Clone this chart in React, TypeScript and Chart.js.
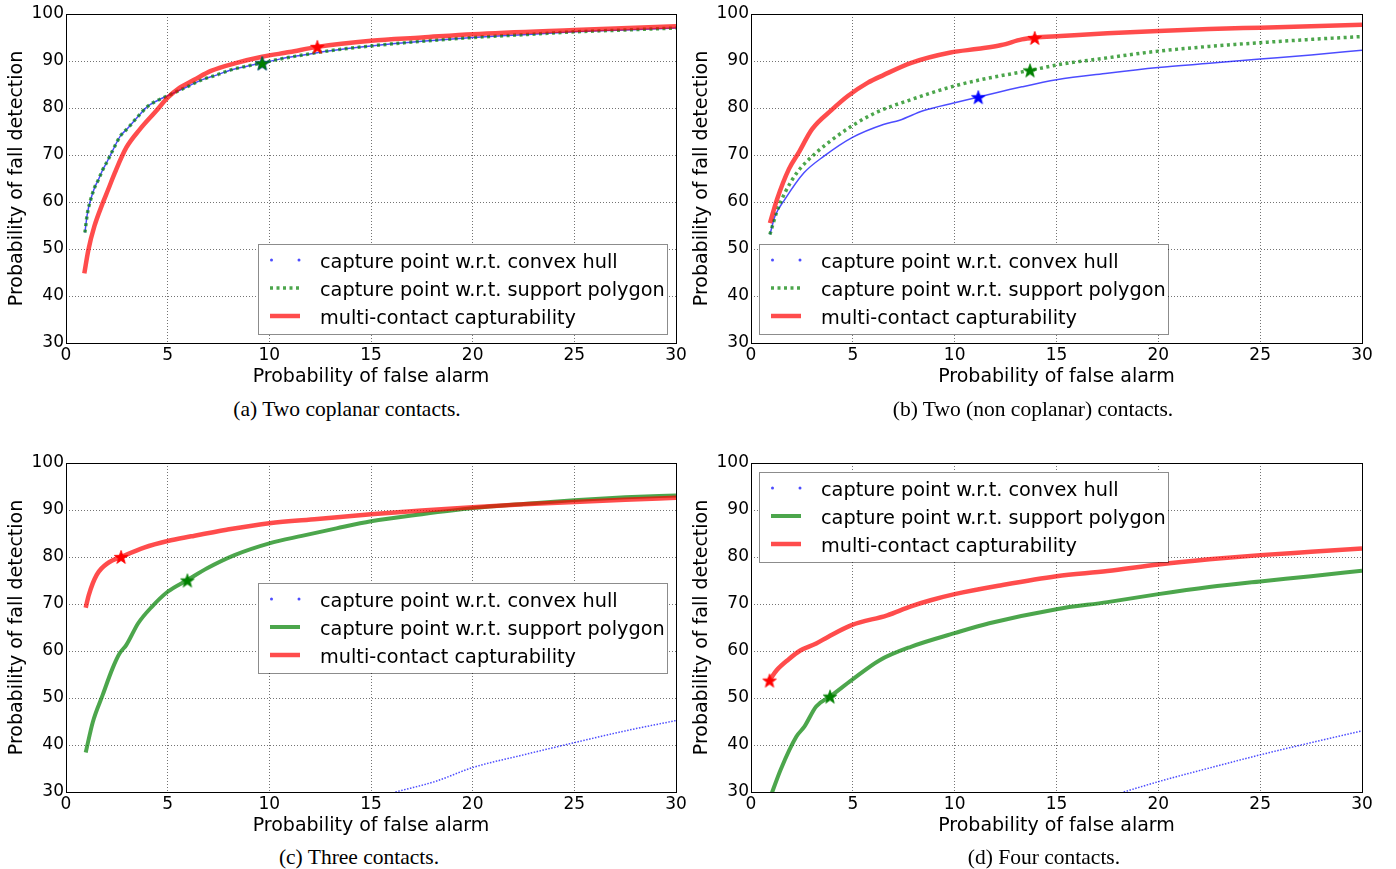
import React, { useEffect, useRef } from "react";
import { Chart, registerables } from "chart.js";
Chart.register(...registerables);

const FONT = '"DejaVu Sans", sans-serif';
const SERIF = '"Liberation Serif", "Times New Roman", serif';

const X_TICKS = [0, 5, 10, 15, 20, 25, 30];
const Y_TICKS = [30, 40, 50, 60, 70, 80, 90, 100];
const X_TITLE = "Probability of false alarm";
const Y_TITLE = "Probability of fall detection";
const LEGEND_LABELS = [
  "capture point w.r.t. convex hull",
  "capture point w.r.t. support polygon",
  "multi-contact capturability",
];
const CAPTIONS = [
  "(a) Two coplanar contacts.",
  "(b) Two (non coplanar) contacts.",
  "(c) Three contacts.",
  "(d) Four contacts.",
];

// (a) Two coplanar contacts
const A_HULL_X = [0.93, 1.05, 1.22, 1.4, 1.6, 1.8, 2.0, 2.3, 2.67, 3.06, 3.5, 4.03, 4.5, 5.0, 5.8, 6.74, 7.4, 8.1, 8.9, 9.65, 10.5, 11.4, 13.0, 15.0, 17.5, 20.0, 22.5, 25.0, 27.5, 30.0];
const A_HULL_Y = [53.5, 57.5, 60.6, 63.0, 64.8, 66.8, 68.4, 71.0, 74.0, 75.8, 78.0, 80.4, 81.6, 82.6, 84.2, 86.1, 87.0, 88.1, 88.9, 89.6, 90.4, 91.1, 92.2, 93.2, 94.2, 95.0, 95.6, 96.2, 96.6, 97.0];
const A_POLY_X = [0.93, 1.05, 1.22, 1.4, 1.6, 1.8, 2.0, 2.3, 2.67, 3.06, 3.5, 4.03, 4.5, 5.0, 5.8, 6.74, 7.4, 8.1, 8.9, 9.65, 10.5, 11.4, 13.0, 15.0, 17.5, 20.0, 22.5, 25.0, 27.5, 30.0];
const A_POLY_Y = [53.5, 57.5, 60.6, 63.0, 64.8, 66.8, 68.4, 71.0, 74.0, 75.8, 78.0, 80.4, 81.6, 82.6, 84.2, 86.1, 87.0, 88.1, 88.9, 89.6, 90.4, 91.1, 92.2, 93.2, 94.2, 95.0, 95.6, 96.2, 96.6, 97.0];
const A_MCC_X = [0.9, 1.1, 1.4, 1.8, 2.07, 2.4, 2.97, 3.64, 4.42, 5.0, 5.58, 6.3, 7.13, 8.3, 9.65, 11.0, 12.36, 15.0, 17.5, 20.0, 25.0, 30.0];
const A_MCC_Y = [44.8, 49.8, 54.9, 59.7, 62.6, 66.2, 71.6, 75.5, 79.3, 82.2, 84.3, 86.0, 87.9, 89.5, 90.9, 91.9, 93.0, 94.3, 95.0, 95.7, 96.6, 97.4];
const A_STAR_X = [9.65, 9.65, 12.36];
const A_STAR_Y = [89.5, 89.5, 93.0];

// (b) Two (non coplanar) contacts
const B_HULL_X = [0.93, 1.18, 1.67, 2.6, 3.6, 4.96, 6.5, 7.3, 8.45, 10.0, 11.16, 13.3, 15.0, 17.5, 20.0, 22.5, 25.0, 27.5, 30.0];
const B_HULL_Y = [53.1, 57.0, 60.6, 66.2, 69.8, 73.7, 76.5, 77.4, 79.4, 81.1, 82.3, 84.5, 86.0, 87.4, 88.6, 89.5, 90.4, 91.3, 92.3];
const B_POLY_X = [0.93, 1.28, 1.67, 2.25, 3.2, 4.0, 4.96, 6.12, 7.87, 10.0, 11.36, 13.7, 15.2, 17.2, 20.0, 22.5, 25.0, 27.5, 30.0];
const B_POLY_Y = [53.1, 58.1, 62.0, 66.2, 70.5, 73.3, 76.2, 79.0, 81.8, 84.7, 86.1, 88.0, 89.3, 90.5, 92.1, 93.1, 93.9, 94.6, 95.2];
const B_MCC_X = [0.93, 1.28, 1.86, 2.34, 3.0, 3.99, 4.77, 5.74, 6.5, 7.87, 9.8, 11.16, 12.3, 13.3, 13.93, 15.2, 17.5, 20.0, 22.5, 25.0, 27.5, 30.0];
const B_MCC_Y = [55.5, 60.6, 67.0, 70.5, 75.5, 79.7, 82.6, 85.4, 87.0, 89.6, 91.8, 92.6, 93.4, 94.6, 94.96, 95.3, 95.9, 96.4, 96.8, 97.1, 97.4, 97.7];
const B_STAR_X = [11.16, 13.7, 13.93];
const B_STAR_Y = [82.3, 88.0, 94.9];

// (c) Three contacts
const C_HULL_X = [16.2, 18.2, 20.0, 22.5, 25.0, 27.5, 30.0];
const C_HULL_Y = [30.0, 32.3, 35.2, 37.9, 40.5, 43.0, 45.2];
const C_POLY_X = [0.97, 1.32, 1.8, 2.29, 2.64, 2.97, 3.55, 4.22, 5.0, 5.97, 6.94, 8.29, 10.0, 11.6, 13.3, 15.0, 17.5, 20.0, 22.5, 25.0, 27.5, 30.0];
const C_POLY_Y = [38.4, 44.9, 50.6, 56.3, 59.5, 61.3, 65.9, 69.4, 72.6, 75.1, 77.6, 80.4, 82.9, 84.5, 86.1, 87.6, 89.1, 90.4, 91.3, 92.1, 92.7, 93.1];
const C_MCC_X = [0.97, 1.12, 1.51, 2.09, 2.71, 3.84, 5.0, 6.16, 7.9, 10.0, 12.36, 15.0, 17.5, 20.0, 22.5, 25.0, 27.5, 30.0];
const C_MCC_Y = [69.2, 71.9, 76.2, 78.8, 80.0, 82.0, 83.4, 84.4, 85.8, 87.2, 88.1, 89.1, 89.9, 90.6, 91.2, 91.7, 92.2, 92.6];
const C_STAR_X = [null, 5.97, 2.71];
const C_STAR_Y = [null, 75.0, 80.0];

// (d) Four contacts
const D_HULL_X = [18.3, 20.0, 22.5, 25.0, 27.5, 30.0];
const D_HULL_Y = [30.0, 32.2, 35.1, 37.9, 40.5, 43.0];
const D_POLY_X = [1.0, 1.45, 2.23, 2.62, 3.2, 3.88, 4.94, 6.3, 7.85, 10.0, 11.7, 15.0, 17.5, 20.0, 22.5, 25.0, 27.5, 30.0];
const D_POLY_Y = [29.5, 34.7, 41.8, 43.9, 48.2, 50.3, 53.8, 58.0, 60.9, 63.8, 65.9, 68.9, 70.4, 72.1, 73.6, 74.8, 75.9, 77.1];
const D_MCC_X = [0.91, 1.26, 1.84, 2.42, 3.2, 3.78, 4.94, 6.69, 7.85, 8.82, 10.0, 12.3, 15.0, 17.5, 20.0, 22.5, 25.0, 27.5, 30.0];
const D_MCC_Y = [53.8, 55.9, 58.2, 60.1, 61.6, 63.0, 65.5, 67.6, 69.5, 70.8, 72.1, 74.0, 75.9, 77.0, 78.4, 79.5, 80.4, 81.1, 81.8];
const D_STAR_X = [null, 3.88, 0.91];
const D_STAR_Y = [null, 50.3, 53.7];

const HULL_COLOR = "rgba(0,0,255,0.7)";
const POLY_COLOR = "rgba(0,128,0,0.7)";
const MCC_COLOR = "rgba(255,0,0,0.7)";
const STAR_COLORS = ["#0000ff", "#008000", "#ff0000"];

const PANELS = [
  { hx: A_HULL_X, hy: A_HULL_Y, px: A_POLY_X, py: A_POLY_Y, mx: A_MCC_X, my: A_MCC_Y, sx: A_STAR_X, sy: A_STAR_Y, polyDotted: true, hullDash: [] as number[], loc: "lower right", left: 0, top: 0, width: 690, capX: 347, capY: 409 },
  { hx: B_HULL_X, hy: B_HULL_Y, px: B_POLY_X, py: B_POLY_Y, mx: B_MCC_X, my: B_MCC_Y, sx: B_STAR_X, sy: B_STAR_Y, polyDotted: true, hullDash: [] as number[], loc: "lower left", left: 685, top: 0, width: 691, capX: 1033, capY: 409 },
  { hx: C_HULL_X, hy: C_HULL_Y, px: C_POLY_X, py: C_POLY_Y, mx: C_MCC_X, my: C_MCC_Y, sx: C_STAR_X, sy: C_STAR_Y, polyDotted: false, hullDash: [1.5, 1.5], loc: "center right", left: 0, top: 449, width: 690, capX: 359, capY: 857 },
  { hx: D_HULL_X, hy: D_HULL_Y, px: D_POLY_X, py: D_POLY_Y, mx: D_MCC_X, my: D_MCC_Y, sx: D_STAR_X, sy: D_STAR_Y, polyDotted: false, hullDash: [1.5, 1.5], loc: "upper left", left: 685, top: 449, width: 691, capX: 1044, capY: 857 },
];

function makeStar(color: string) {
  const c = document.createElement("canvas");
  const s = 16;
  c.width = s;
  c.height = s;
  const g = c.getContext("2d")!;
  g.beginPath();
  const cx = s / 2, cy = s / 2 + 0.6, R = 7.2, r = 2.9;
  for (let i = 0; i < 10; i++) {
    const ang = -Math.PI / 2 + (i * Math.PI) / 5;
    const rad = i % 2 === 0 ? R : r;
    g.lineTo(cx + rad * Math.cos(ang), cy + rad * Math.sin(ang));
  }
  g.closePath();
  g.fillStyle = color;
  g.fill();
  g.strokeStyle = color;
  g.lineWidth = 0.8;
  g.stroke();
  return c;
}

const framePlugin = {
  id: "frame",
  afterDatasetsDraw(chart: any) {
    const { ctx, chartArea: a } = chart;
    ctx.save();
    ctx.strokeStyle = "#000";
    ctx.lineWidth = 1;
    ctx.strokeRect(Math.floor(a.left) + 0.5, Math.floor(a.top) + 0.5, Math.round(a.right - a.left), Math.round(a.bottom - a.top));
    ctx.restore();
  },
};

function legendPlugin(loc: string, polyDotted: boolean) {
  return {
    id: "mplLegend",
    afterDraw(chart: any) {
      const { ctx, chartArea: a } = chart;
      const W = 409, H = 90;
      let left = 0, top = 0;
      if (loc === "lower right") { left = a.right - 9 - W; top = a.bottom - 9 - H; }
      else if (loc === "lower left") { left = a.left + 8; top = a.bottom - 9 - H; }
      else if (loc === "center right") { left = a.right - 9 - W; top = (a.top + a.bottom) / 2 - H / 2; }
      else { left = a.left + 8; top = a.top + 9; }
      left = Math.round(left);
      top = Math.round(top);
      ctx.save();
      ctx.fillStyle = "#fff";
      ctx.fillRect(left, top, W, H);
      ctx.strokeStyle = "rgba(0,0,0,0.45)";
      ctx.lineWidth = 1;
      ctx.strokeRect(left + 0.5, top + 0.5, W, H);
      const rows = [16, 44, 72];
      const hx0 = left + 12, hx1 = left + 42;
      ctx.fillStyle = HULL_COLOR;
      for (const dx of [13.5, 41]) {
        ctx.beginPath();
        ctx.arc(left + dx, top + rows[0], 1.5, 0, Math.PI * 2);
        ctx.fill();
      }
      ctx.strokeStyle = POLY_COLOR;
      ctx.lineWidth = polyDotted ? 3.5 : 4;
      ctx.setLineDash(polyDotted ? [3, 3.5] : []);
      ctx.beginPath();
      ctx.moveTo(hx0, top + rows[1]);
      ctx.lineTo(hx1, top + rows[1]);
      ctx.stroke();
      ctx.setLineDash([]);
      ctx.strokeStyle = MCC_COLOR;
      ctx.lineWidth = 4.5;
      ctx.beginPath();
      ctx.moveTo(hx0, top + rows[2]);
      ctx.lineTo(hx1, top + rows[2]);
      ctx.stroke();
      ctx.fillStyle = "#000";
      ctx.font = `19.3px ${FONT}`;
      ctx.textBaseline = "middle";
      ctx.textAlign = "left";
      LEGEND_LABELS.forEach((t, i) => ctx.fillText(t, left + 62, top + rows[i] + 2.5));
      ctx.restore();
    },
  };
}

function toPts(xs: (number | null)[], ys: (number | null)[]) {
  return xs.map((x, i) => ({ x, y: ys[i] })).filter((p) => p.x !== null && p.y !== null);
}

function Panel({ p }: { p: (typeof PANELS)[number] }) {
  const ref = useRef<HTMLCanvasElement>(null);
  useEffect(() => {
    const stars = STAR_COLORS.map((c) => makeStar(c));
    const starSets = [2, 1, 0]
      .filter((i) => p.sx[i] !== null)
      .map((i) => ({
        data: toPts([p.sx[i]], [p.sy[i]]),
        pointStyle: stars[i],
        pointRadius: 8,
        showLine: false,
        clip: false as any,
        order: i === 0 ? 2 : i === 1 ? 1 : 0,
      }));
    const gridColor = "rgba(0,0,0,0.55)";
    const lineCommon = { showLine: true, pointRadius: 0, clip: 0, cubicInterpolationMode: "monotone", borderJoinStyle: "round" };
    const chart = new Chart(ref.current!, {
      type: "scatter",
      data: {
        datasets: [
          ...starSets,
          { ...lineCommon, data: toPts(p.mx, p.my), borderColor: MCC_COLOR, borderWidth: 4.5, order: 3 } as any,
          { ...lineCommon, data: toPts(p.px, p.py), borderColor: POLY_COLOR, borderWidth: p.polyDotted ? 3.5 : 4, borderDash: p.polyDotted ? [3, 3.5] : [], order: 4 } as any,
          { ...lineCommon, data: toPts(p.hx, p.hy), borderColor: HULL_COLOR, borderWidth: 1.5, borderDash: p.hullDash, order: 5 } as any,
        ],
      },
      options: {
        responsive: false,
        animation: false,
        devicePixelRatio: 1,
        events: [],
        layout: { padding: { top: 14, right: 14, left: 0, bottom: 0 } },
        plugins: { legend: { display: false }, tooltip: { enabled: false } },
        scales: {
          x: {
            type: "linear",
            min: 0,
            max: 30,
            afterBuildTicks: (s: any) => { s.ticks = X_TICKS.map((v) => ({ value: v })); },
            afterFit: (s: any) => { s.height = 47; },
            ticks: { color: "#000", font: { family: FONT, size: 17 }, padding: 2, maxRotation: 0, autoSkip: false },
            grid: { color: gridColor, lineWidth: 1, drawTicks: false },
            border: { display: false, dash: [1, 2] },
            title: { display: true, text: X_TITLE, color: "#000", font: { family: FONT, size: 19 }, padding: { top: 0, bottom: 2 } },
          },
          y: {
            type: "linear",
            min: 30,
            max: 100,
            afterBuildTicks: (s: any) => { s.ticks = Y_TICKS.map((v) => ({ value: v })); },
            afterFit: (s: any) => { s.width = 66; },
            ticks: { color: "#000", font: { family: FONT, size: 17 }, padding: 2, autoSkip: false },
            grid: { color: gridColor, lineWidth: 1, drawTicks: false },
            border: { display: false, dash: [1, 2] },
            title: { display: true, text: Y_TITLE, color: "#000", font: { family: FONT, size: 19 }, padding: { top: 6, bottom: 0 } },
          },
        },
      } as any,
      plugins: [framePlugin, legendPlugin(p.loc, p.polyDotted)],
    });
    return () => chart.destroy();
  }, []);
  return (
    <canvas
      ref={ref}
      width={p.width}
      height={390}
      style={{ position: "absolute", left: p.left, top: p.top, width: p.width, height: 390 }}
    />
  );
}

export default function App() {
  return (
    <div style={{ position: "absolute", left: 0, top: 0, width: 1396, height: 869, background: "#fff", overflow: "hidden" }}>
      {PANELS.map((p, i) => (
        <Panel key={i} p={p} />
      ))}
      {PANELS.map((p, i) => (
        <div
          key={"c" + i}
          style={{
            position: "absolute",
            left: p.capX - 250,
            width: 500,
            top: p.capY - 14,
            height: 28,
            lineHeight: "28px",
            textAlign: "center",
            fontFamily: SERIF,
            fontSize: 21.5,
            color: "#000",
            whiteSpace: "nowrap",
          }}
        >
          {CAPTIONS[i]}
        </div>
      ))}
    </div>
  );
}
